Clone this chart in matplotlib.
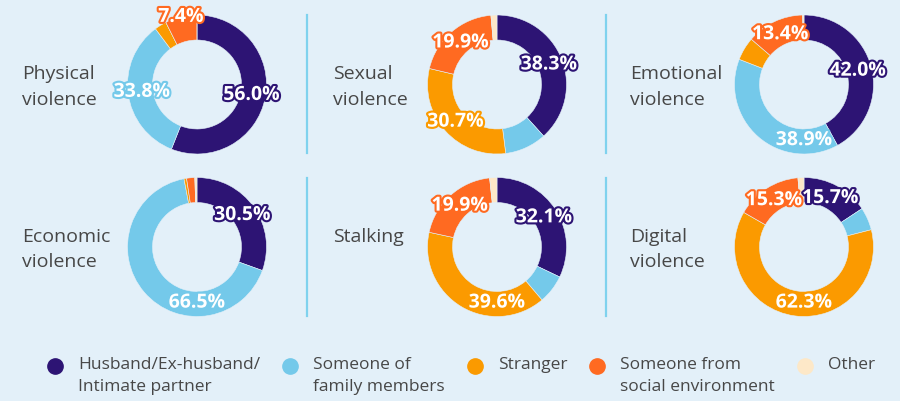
import matplotlib
matplotlib.use("Agg")
import matplotlib.pyplot as plt
import matplotlib.patheffects as pe
from matplotlib.lines import Line2D
import numpy as np

# perpetrator categories (legend order = slice order, clockwise from 12 o'clock)
categories = ["Husband/Ex-husband/\nIntimate partner", "Someone of\nfamily members",
              "Stranger", "Someone from\nsocial environment", "Other"]
colors = ["#2d1474", "#74c9ea", "#fb9a00", "#ff6a21", "#fde8c8"]

panels = ["Physical\nviolence", "Sexual\nviolence", "Emotional\nviolence",
          "Economic\nviolence", "Stalking", "Digital\nviolence"]
physical = [56.0, 33.8, 2.8, 7.4, 0.0]
sexual = [38.3, 9.7, 30.7, 19.9, 1.4]
emotional = [42.0, 38.9, 5.4, 13.4, 0.3]
economic = [30.5, 66.5, 0.6, 1.9, 0.5]
stalking = [32.1, 6.7, 39.6, 19.9, 1.7]
digital = [15.7, 5.3, 62.3, 15.3, 1.4]
shares = [physical, sexual, emotional, economic, stalking, digital]

# layout (pixels)
W, H = 900, 401
BG = "#e3f0f9"
SEP = "#7fd2ee"
TXT = "#474747"
col_x = [197, 497, 804]
row_y = [84.5, 247]
R = 69.5
title_x = [22, 333, 630]
sep_x = [307, 606]

plt.rcParams["font.family"] = ["Open Sans", "DejaVu Sans"]

fig = plt.figure(figsize=(W / 100, H / 100), dpi=100, facecolor=BG)


def fx(x):
    return x / W


def fy(y):
    return 1 - y / H


def donut(cx, cy, vals):
    ax = fig.add_axes([fx(cx - R), fy(cy + R), 2 * R / W, 2 * R / H])
    ax.pie(vals, colors=colors, startangle=90, counterclock=False, radius=1,
           wedgeprops=dict(width=0.36, edgecolor=BG, linewidth=0.4))
    ax.set_xlim(-1, 1)
    ax.set_ylim(-1, 1)
    ax.set_axis_off()

    total = float(sum(vals))
    cum = np.concatenate([[0], np.cumsum(vals)]) / total
    top = [i for i in np.argsort(vals)[::-1][:3] if vals[i] >= 5]
    for i in top:
        start, end = cum[i], cum[i + 1]
        frac = (start + end) / 2
        if start < 0.47 and end > 0.6:
            frac = 0.5
        r = 1.0 if vals[i] < 10 else 0.8
        ang = np.deg2rad(90 - 360 * frac)
        ax.text(r * np.cos(ang), r * np.sin(ang), f"{vals[i]:.1f}%",
                ha="center", va="center", fontsize=14, fontweight="bold",
                color="white",
                path_effects=[pe.withStroke(linewidth=3, foreground=colors[i])])


for k, (name, vals) in enumerate(zip(panels, shares)):
    row, col = divmod(k, 3)
    cx, cy = col_x[col], row_y[row]
    donut(cx, cy, vals)
    fig.text(fx(title_x[col]), fy(cy - R + 50), name, ha="left", va="top",
             fontsize=14, color=TXT, linespacing=1.57)

for row in range(2):
    cy = row_y[row]
    for x in sep_x:
        fig.add_artist(Line2D([fx(x), fx(x)], [fy(cy - R), fy(cy + R - 1)],
                              transform=fig.transFigure, color=SEP, lw=1.6))

# legend: markers aligned with the first text line
renderer = fig.canvas.get_renderer()
x = 55
for lab, c in zip(categories, colors):
    fig.add_artist(Line2D([fx(x)], [fy(366)], transform=fig.transFigure,
                          marker="o", markersize=11, color=c, linestyle="none"))
    t = fig.text(fx(x + 23), fy(357), lab, ha="left", va="top",
                 fontsize=12.5, color=TXT, linespacing=1.5)
    bb = t.get_window_extent(renderer)
    x = bb.x1 + 30

fig.savefig("out.png", dpi=100, facecolor=BG)
